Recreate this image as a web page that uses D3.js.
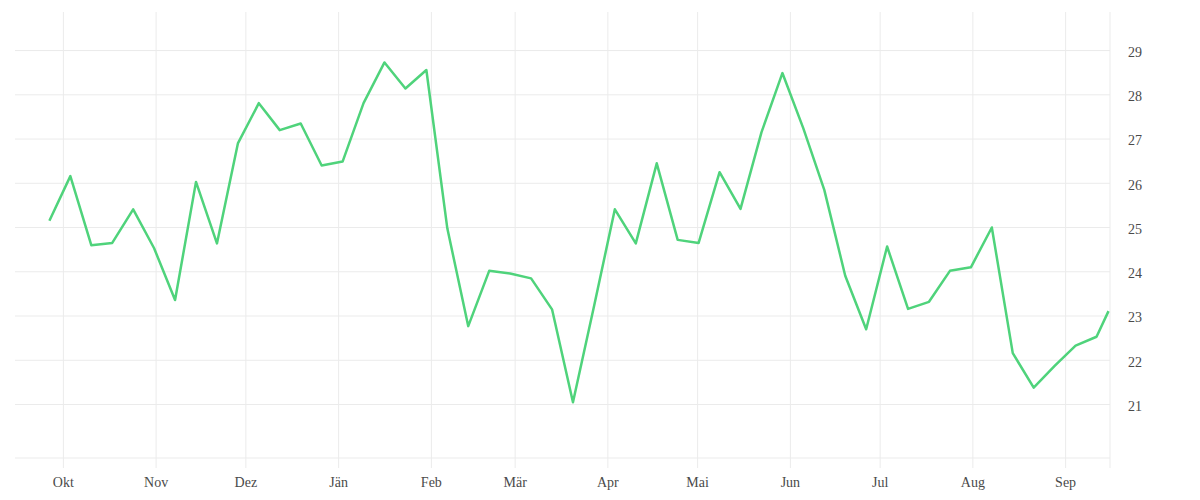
<!DOCTYPE html>
<html>
<head>
<meta charset="utf-8">
<script src="https://cdn.jsdelivr.net/npm/d3@7"></script>
<style>
  body { margin: 0; background: #fff; }
  #chart { width: 1200px; height: 500px; }
</style>
</head>
<body>
<div id="chart"></div>
<script>
const dates = [
  '2022-09-26', '2022-10-03', '2022-10-10', '2022-10-17', '2022-10-24', '2022-10-31',
  '2022-11-07', '2022-11-14', '2022-11-21', '2022-11-28', '2022-12-05', '2022-12-12',
  '2022-12-19', '2022-12-26', '2023-01-02', '2023-01-09', '2023-01-16', '2023-01-23',
  '2023-01-30', '2023-02-06', '2023-02-13', '2023-02-20', '2023-02-27', '2023-03-06',
  '2023-03-13', '2023-03-20', '2023-03-27', '2023-04-03', '2023-04-10', '2023-04-17',
  '2023-04-24', '2023-05-01', '2023-05-08', '2023-05-15', '2023-05-22', '2023-05-29',
  '2023-06-05', '2023-06-12', '2023-06-19', '2023-06-26', '2023-07-03', '2023-07-10',
  '2023-07-17', '2023-07-24', '2023-07-31', '2023-08-07', '2023-08-14', '2023-08-21',
  '2023-08-28', '2023-09-04', '2023-09-11', '2023-09-15'
];

const values = [
  25.14, 26.15, 24.59, 24.64, 25.40, 24.52, 23.35, 26.02, 24.63, 26.89,
  27.80, 27.19, 27.34, 26.39, 26.48, 27.80, 28.72, 28.13, 28.55, 24.97,
  22.76, 24.01, 23.95, 23.84, 23.14, 21.04, 23.20, 25.40, 24.63, 26.44,
  24.71, 24.64, 26.24, 25.41, 27.14, 28.48, 27.23, 25.84, 23.90, 22.69,
  24.56, 23.15, 23.31, 24.01, 24.09, 24.99, 22.15, 21.37, 21.86, 22.32,
  22.52, 23.10
];

const monthNames = ['Jän', 'Feb', 'Mär', 'Apr', 'Mai', 'Jun', 'Jul', 'Aug', 'Sep', 'Okt', 'Nov', 'Dez'];
const yTicks = [21, 22, 23, 24, 25, 26, 27, 28, 29];
const xDomain = ['2022-09-15', '2023-09-16'];
const yDomain = [19.78, 29.86];

const parse = d3.utcParse('%Y-%m-%d');
const parseNoon = d3.utcParse('%Y-%m-%d %H');
// values are sampled at midday
const points = dates.map((d, i) => ({ date: parseNoon(d + ' 12'), value: values[i] }));

const plotLeft = 15, plotRight = 1110, plotTop = 12, plotBottom = 458;
const font = '"Liberation Serif", serif';

const xScale = d3.scaleUtc().domain(xDomain.map(parse)).range([plotLeft, plotRight]);
const yScale = d3.scaleLinear().domain(yDomain).range([plotBottom, plotTop]);

const svg = d3
  .select('#chart')
  .append('svg')
  .attr('width', 1200)
  .attr('height', 500);

// horizontal grid + labels on the right
const yAxis = svg
  .append('g')
  .attr('transform', `translate(${plotRight},0)`)
  .call(d3.axisRight(yScale).tickValues(yTicks).tickSize(-(plotRight - plotLeft)).tickPadding(18));
yAxis.select('.domain').remove();
yAxis.selectAll('.tick line').attr('stroke', '#ebebeb');
yAxis
  .selectAll('.tick text')
  .attr('dy', '0.45em')
  .attr('fill', '#4a4a4a')
  .style('font-family', font)
  .style('font-size', '14px');

// vertical month grid + labels
const xAxis = svg
  .append('g')
  .attr('transform', `translate(0,${plotBottom + 10})`)
  .call(
    d3.axisBottom(xScale)
      .ticks(d3.utcMonth.every(1))
      .tickSize(-(plotBottom + 10 - plotTop))
      .tickPadding(9)
      .tickFormat((d) => monthNames[d.getUTCMonth()])
  );
xAxis.select('.domain').remove();
xAxis.selectAll('.tick line').attr('stroke', '#ebebeb');
xAxis
  .selectAll('.tick text')
  .attr('fill', '#4a4a4a')
  .style('font-family', font)
  .style('font-size', '14px');

// frame: bottom baseline and right edge
svg
  .append('line')
  .attr('x1', plotLeft)
  .attr('x2', plotRight)
  .attr('y1', plotBottom)
  .attr('y2', plotBottom)
  .attr('stroke', '#ebebeb');
svg
  .append('line')
  .attr('x1', plotRight)
  .attr('x2', plotRight)
  .attr('y1', plotTop)
  .attr('y2', plotBottom + 10)
  .attr('stroke', '#ebebeb');

const line = d3
  .line()
  .x((d) => xScale(d.date))
  .y((d) => yScale(d.value));

svg
  .append('path')
  .datum(points)
  .attr('fill', 'none')
  .attr('stroke', '#4fd37b')
  .attr('stroke-width', 2.5)
  .attr('stroke-linejoin', 'round')
  .attr('d', line);
</script>
</body>
</html>
